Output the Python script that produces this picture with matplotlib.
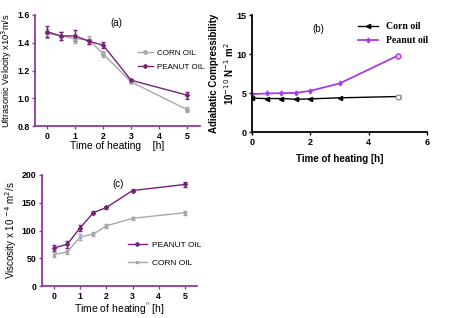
import matplotlib
matplotlib.use("Agg")
import matplotlib.pyplot as plt
from matplotlib.lines import Line2D

plt.rcParams['font.family'] = ['Liberation Sans', 'DejaVu Sans']

time_h = [0, 0.5, 1, 1.5, 2, 3, 5]

# (a) Ultrasonic velocity x10^3 m/s
vel_corn = [1.467, 1.45, 1.43, 1.42, 1.32, 1.118, 0.918]
vel_corn_err = [0.03, 0.03, 0.03, 0.03, 0.02, 0.01, 0.02]
vel_peanut = [1.48, 1.448, 1.45, 1.41, 1.383, 1.13, 1.022]
vel_peanut_err = [0.04, 0.03, 0.04, 0.02, 0.02, 0.01, 0.025]

# (b) Adiabatic compressibility 10^-10 N^-1 m^2
comp_corn = [4.33, 4.29, 4.29, 4.2, 4.25, 4.38, 4.55]
comp_peanut = [4.85, 4.94, 4.98, 5.02, 5.28, 6.22, 9.79]

# (c) Viscosity x 10^-4 m^2/s
visc_peanut = [68.7, 75, 105, 132, 141.5, 172, 183]
visc_peanut_err = [6, 6, 5, 3, 3, 3, 5]
visc_corn = [56.6, 61.4, 88.5, 93.4, 108.4, 122, 132]
visc_corn_err = [4, 4, 5, 3, 3, 3, 4]

PURPLE = "#7A1F7A"
SPINE_P = "#8E3A9E"
GRAY = "#A8A8A8"
VIOLET = "#A63CE8"

W, H = 450, 318
fig = plt.figure(figsize=(4.5, 3.18), dpi=100)


def ax_px(l, t, r, b):
    return fig.add_axes([l / W, 1 - b / H, (r - l) / W, (b - t) / H])


def style(ax, spine_color, size=6.3):
    for s in ("top", "right"):
        ax.spines[s].set_visible(False)
    for s in ("left", "bottom"):
        ax.spines[s].set_color(spine_color)
        ax.spines[s].set_linewidth(1.3)
    ax.tick_params(axis="both", direction="out", length=2.5, width=1,
                   color=spine_color, labelsize=size, pad=1.5)
    for lab in ax.get_xticklabels() + ax.get_yticklabels():
        lab.set_fontweight("bold")
    ax.set_facecolor("none")


# ---------- (a) ----------
ax = ax_px(35, 15, 200, 126)
ax.errorbar(time_h, vel_corn, yerr=vel_corn_err, color=GRAY, marker="o",
            markersize=2.5, lw=1, capsize=1.5, elinewidth=1)
ax.errorbar(time_h, vel_peanut, yerr=vel_peanut_err, color=PURPLE, marker="D",
            markersize=2, lw=1, capsize=1.5, elinewidth=1)
ax.set_xlim(-0.43, 5.46)
ax.set_ylim(0.8, 1.6)
ax.set_xticks([0, 1, 2, 3, 4, 5])
ax.set_yticks([0.8, 1.0, 1.2, 1.4, 1.6])
ax.set_yticklabels(["0.8", "1.0", "1.2", "1.4", "1.6"])
style(ax, SPINE_P)
ax.set_ylabel("Ultrasonic Velocity x10$^3$m/s", fontsize=6.7, labelpad=2)
ax.set_xlabel("Time of heating    [h]", fontsize=7.5, labelpad=0.5)
ax.text(0.49, 0.97, "(a)", transform=ax.transAxes, fontsize=7, ha="center", va="top")
hA = [Line2D([], [], color=GRAY, marker="o", markersize=2.5, lw=1),
      Line2D([], [], color=PURPLE, marker="D", markersize=2, lw=1)]
ax.legend(hA, ["CORN OIL", "PEANUT OIL"], loc="upper left", bbox_to_anchor=(0.6, 0.73),
          frameon=False, fontsize=5.8, handlelength=1.8, labelspacing=0.8, borderpad=0,
          handletextpad=0.5)

# ---------- (b) ----------
ax = ax_px(252, 15, 427, 132)
ax.plot(time_h, comp_corn, color="black", marker="<", markersize=3, lw=1,
        label="Corn oil")
ax.plot(time_h[-1:], comp_corn[-1:], linestyle="none", marker="o", markersize=3.5,
        mfc="white", mec="#999999")
ax.plot(time_h, comp_peanut, color=VIOLET, marker="d", markersize=2.5, lw=1.3,
        label="Peanut oil")
ax.plot(time_h[-1:], comp_peanut[-1:], linestyle="none", marker="o", markersize=3.5,
        mfc="#E8C8F8", mec=VIOLET)
ax.set_xlim(0, 6)
ax.set_ylim(0, 15)
ax.set_xticks([0, 2, 4, 6])
ax.set_yticks([0, 5, 10, 15])
style(ax, "black", size=6.5)
ax.set_ylabel("Adiabatic Compressibility\n10$^{-10}$ N$^{-1}$ m$^2$", fontsize=7,
              fontweight="bold", labelpad=0.5, linespacing=1.2)
ax.set_xlabel("Time of heating [h]", fontsize=7, fontweight="bold", labelpad=5)
ax.text(0.38, 0.88, "(b)", transform=ax.transAxes, fontsize=7, ha="center", va="center")
ax.legend(loc="upper left", bbox_to_anchor=(0.58, 0.98), frameon=False,
          handlelength=2.0, labelspacing=0.5, borderpad=0, handletextpad=0.8,
          prop={"family": "Liberation Serif", "weight": "bold", "size": 7})

# ---------- (c) ----------
ax = ax_px(42, 175, 197, 286)
ax.errorbar(time_h, visc_peanut, yerr=visc_peanut_err, color=PURPLE, marker="D",
            markersize=2, lw=1, capsize=1.5, elinewidth=1)
ax.errorbar(time_h, visc_corn, yerr=visc_corn_err, color=GRAY, marker="s",
            markersize=2, lw=1, capsize=1.5, elinewidth=1)
ax.set_xlim(-0.46, 5.46)
ax.set_ylim(0, 200)
ax.set_xticks([0, 1, 2, 3, 4, 5])
ax.set_yticks([0, 50, 100, 150, 200])
style(ax, SPINE_P)
ax.set_ylabel("Viscosity x 10 $^{-4}$ m$^2$/s", fontsize=7, labelpad=2)
ax.set_xlabel("Time of heating$^{''}$ [h]", fontsize=7.5, labelpad=0.5)
ax.text(0.49, 0.96, "(c)", transform=ax.transAxes, fontsize=7, ha="center", va="top")
hC = [Line2D([], [], color=PURPLE, marker="D", markersize=2, lw=1),
      Line2D([], [], color=GRAY, marker="s", markersize=2, lw=1)]
ax.legend(hC, ["PEANUT OIL", "CORN OIL"], loc="upper left", bbox_to_anchor=(0.53, 0.44),
          frameon=False, fontsize=6, handlelength=2.2, labelspacing=1.2, borderpad=0,
          handletextpad=0.6)

fig.savefig("out.png", dpi=100)
